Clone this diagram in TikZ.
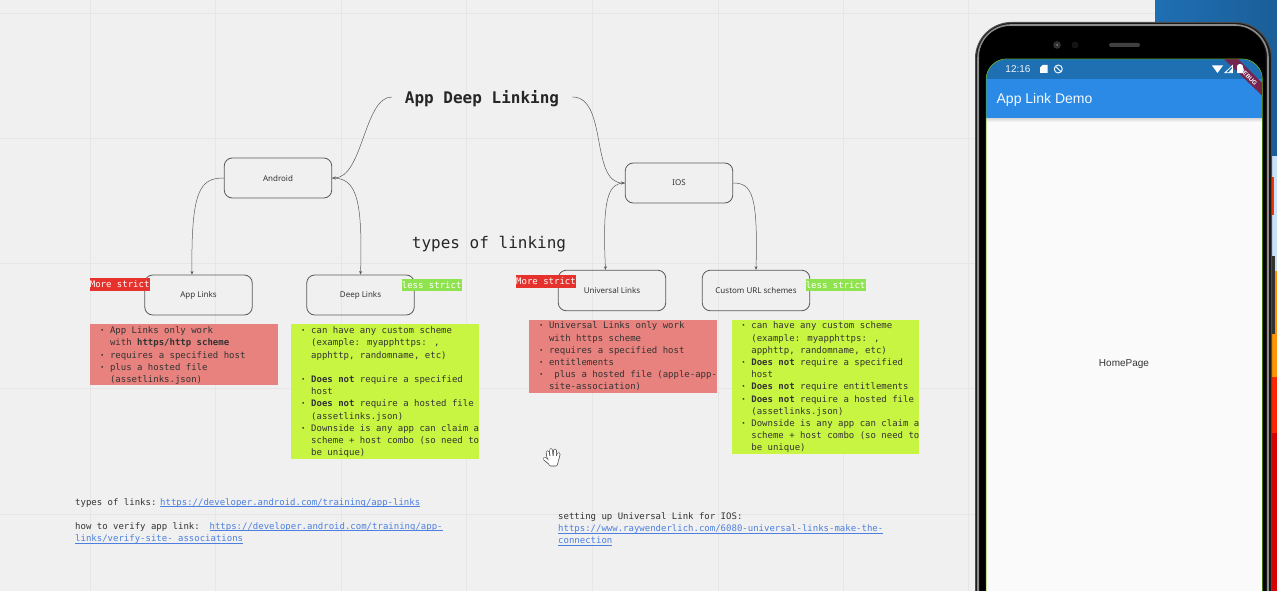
\documentclass[tikz,border=0pt]{standalone}
\usepackage{fontspec}
\setmainfont{DejaVu Sans Mono}
\newfontfamily\boxfont{Noto Sans}
\newfontfamily\uifont{Liberation Sans}
\usetikzlibrary{arrows.meta}
\definecolor{bgc}{HTML}{F0F0F0}
\definecolor{gridc}{HTML}{E6E6E6}
\definecolor{inkc}{HTML}{333333}
\definecolor{edgec}{HTML}{5A5A5A}
\definecolor{redbox}{HTML}{E7827E}
\definecolor{greenbox}{HTML}{C8F542}
\definecolor{redtag}{HTML}{E5322D}
\definecolor{greentag}{HTML}{8FE34F}
\definecolor{linkc}{HTML}{4C7FE0}
\definecolor{statusc}{HTML}{1F6FB3}
\definecolor{barc}{HTML}{2A8AE6}
\definecolor{screenc}{HTML}{FAFAFA}
\definecolor{bannerc}{HTML}{74244F}
\newcommand{\bl}{\makebox[10.5pt][l]{\textbf{·}}}
\newcommand{\ct}{\hspace*{10.5pt}}
\newcommand{\lk}[1]{\textcolor{linkc}{\setbox0\hbox{#1}\rlap{\rule[-1.6pt]{\wd0}{0.5pt}}\box0}}
\tikzset{
  x=1pt,y=-1pt,
  flowbox/.style={draw=edgec,line width=0.8pt,rounded corners=8pt,inner sep=0pt,minimum width=107.5pt,minimum height=40pt,font=\boxfont\fontsize{8}{10}\selectfont,text=inkc},
  link/.style={draw=edgec,line width=0.5pt,-{Stealth[length=3.6pt,width=3pt]}},
  tag/.style={text=white,font=\fontsize{9}{11}\selectfont,inner sep=0pt,minimum width=60pt,minimum height=12.6pt},
  notebox/.style={anchor=north west,inner sep=0pt,minimum width=187.7pt},
  notetext/.style={anchor=north west,inner sep=0pt,align=left,text=inkc,font=\fontsize{9}{12.2}\selectfont},
  plaintext/.style={anchor=north west,inner sep=0pt,align=left,text=inkc,font=\fontsize{9}{12.2}\selectfont},
  headline/.style={font=\fontsize{16}{18}\selectfont,text=black!85},
}
\begin{document}
\begin{tikzpicture}
\useasboundingbox (0,0) rectangle (1277,591);
\clip (0,0) rectangle (1277,591);
\fill[bgc] (0,0) rectangle (1277,591);
% grid
\foreach \gx in {90,215,341,466,592,718,843,968}
  \draw[gridc,line width=0.8pt] (\gx,0) -- (\gx,591);
\foreach \gy in {13,138,263,388,514}
  \draw[gridc,line width=0.8pt] (0,\gy) -- (1277,\gy);

% title and headings
\node[headline,font=\bfseries\fontsize{16}{18}\selectfont,inner xsep=13pt,inner ysep=0pt,text height=14.5pt,text depth=2pt] (title) at (482,97) {App Deep Linking};
\node[headline,inner sep=0pt] (types) at (489,244.5) {types of linking};

% boxes
\node[flowbox] (android) at (278,178) {Android};
\node[flowbox] (ios) at (679,183) {IOS};
\node[flowbox] (app) at (198.5,295) {App Links};
\node[flowbox] (deep) at (360.5,295) {Deep Links};
\node[flowbox,minimum height=40.5pt] (univ) at (612,290.5) {Universal Links};
\node[flowbox,minimum height=40.5pt] (custom) at (756,290.5) {Custom URL schemes};

% connectors
\draw[link] (title.west) .. controls (364,97) and (363,178) .. (android.east);
\draw[link] (title.east) .. controls (608,97) and (590,183) .. (ios.west);
\draw[link] (android.west) .. controls (200,178) and (191,190) .. ([xshift=-6.5pt]app.north);
\draw[link] (android.east) .. controls (355,178) and (363,195) .. (deep.north);
\draw[link] (ios.west) .. controls (609,183) and (602,195) .. ([xshift=-6.5pt]univ.north);
\draw[link] (ios.east) .. controls (752,183) and (758,195) .. (custom.north);

% strictness tags
\node[tag,fill=redtag] (t1) at (119.7,284.5) {More strict};
\node[tag,fill=greentag] (t2) at (431.7,285) {less strict};
\node[tag,fill=redtag] (t3) at (546,281.4) {More strict};
\node[tag,fill=greentag] (t4) at (835.6,285) {less strict};

% coloured notes
\node[notebox,fill=redbox,minimum height=61pt] (n1) at (90,324) {};
\node[notebox,fill=greenbox,minimum height=134.7pt] (n2) at (291,324) {};
\node[notebox,fill=redbox,minimum height=73.4pt] (n3) at (529,319.3) {};
\node[notebox,fill=greenbox,minimum height=134.7pt] (n4) at (731.5,319.3) {};

\node[notetext,xshift=9.3pt] (n1t) at (n1.north west) {\rule{0pt}{9.4pt}\bl App Links only work\\
\ct with \textbf{https/http scheme}\\
\bl requires a specified host\\
\bl plus a hosted file\\
\ct (assetlinks.json)};
\node[notetext,xshift=9.5pt] (n2t) at (n2.north west) {\rule{0pt}{9.4pt}\bl can have any custom scheme\\
\ct (example: myapphttps: ,\\
\ct apphttp, randomname, etc)\\
\mbox{}\\
\bl \textbf{Does not} require a specified\\
\ct host\\
\bl \textbf{Does not} require a hosted file\\
\ct (assetlinks.json)\\
\bl Downside is any app can claim a\\
\ct scheme + host combo (so need to\\
\ct be unique)};
\node[notetext,xshift=9.3pt] (n3t) at (n3.north west) {\rule{0pt}{9.4pt}\bl Universal Links only work\\
\ct with https scheme\\
\bl requires a specified host\\
\bl entitlements\\
\bl \ plus a hosted file (apple-app-\\
\ct site-association)};
\node[notetext,xshift=9.2pt] (n4t) at (n4.north west) {\rule{0pt}{9.4pt}\bl can have any custom scheme\\
\ct (example: myapphttps: ,\\
\ct apphttp, randomname, etc)\\
\bl \textbf{Does not} require a specified\\
\ct host\\
\bl \textbf{Does not} require entitlements\\
\bl \textbf{Does not} require a hosted file\\
\ct (assetlinks.json)\\
\bl Downside is any app can claim a\\
\ct scheme + host combo (so need to\\
\ct be unique)};

% link paragraphs
\node[plaintext] (l1) at (75,498.3) {types of links:\hspace{3.7pt}\lk{https://developer.android.com/training/app-links}};
\node[plaintext] (l2) at (75,522.3) {how to verify app link:\hspace{9.8pt}\lk{https://developer.android.com/training/app-}\\
\lk{links/verify-site-\ associations}};
\node[plaintext] (l3) at (558,512.3) {setting up Universal Link for IOS:\\
\lk{https://www.raywenderlich.com/6080-universal-links-make-the-}\\
\lk{connection}};

% hand cursor
\foreach \w/\c in {3.7/black!75,2.3/white}{
  \draw[line width=\w pt,color=\c,line cap=round,line join=round,fill=\c]
    (549,457) -- (557.5,457) -- (556,464.5) -- (550.5,464.5) -- cycle;
  \draw[line width=\w pt,color=\c,line cap=round] (548.7,458) -- (547.6,452.3);
  \draw[line width=\w pt,color=\c,line cap=round] (551.6,458) -- (551.1,450);
  \draw[line width=\w pt,color=\c,line cap=round] (554.6,458) -- (555,450.5);
  \draw[line width=\w pt,color=\c,line cap=round] (557.3,459) -- (558.6,454);
  \draw[line width=\w pt,color=\c,line cap=round] (550,463) -- (544.8,458.8);
}

% desktop behind the phone
\fill[left color=statusc,right color=statusc!85!black] (1155,0) rectangle (1277,156);
\fill[white!75!barc] (1268,156) rectangle (1277,271);
\fill[orange!85!yellow] (1268,271) rectangle (1277,377);
\fill[red!70!orange] (1268,377) rectangle (1277,433);
\fill[red!85!black] (1268,433) rectangle (1277,591);
\fill[red!65!orange] (1270,177) rectangle (1274,215);

% phone body
\draw[black!70,fill=black!90,line width=1pt,rounded corners=36pt] (975.5,22.5) rectangle (1271.5,640);
\draw[black!45,line width=1.6pt,rounded corners=33pt] (978,25) rectangle (1268,640);
\fill[black,rounded corners=30pt] (979.5,26.5) rectangle (1265.5,640);
\fill[black!80] (1272,256) rectangle (1275,334);
% camera and speaker
\fill[black!80] (1057,45) circle (3.8pt);
\fill[black!50] (1057,45) circle (1pt);
\fill[black!92] (1075,45) circle (3.5pt);
\fill[black!75,rounded corners=2pt] (1109,43) rectangle (1140,47);

% screen
\begin{scope}
  \clip[rounded corners=21pt] (986,58.8) rectangle (1262.5,640);
  \fill[screenc] (986,58.8) rectangle (1262.5,640);
  \fill[statusc] (986,58.8) rectangle (1262.5,79);
  \fill[barc] (986,79) rectangle (1262.5,118.3);
  \shade[top color=black!15,bottom color=screenc] (986,118.3) rectangle (1262.5,122);
  \fill[bannerc] (1223,58) -- (1237,58) -- (1263,84) -- (1263,96.5) -- cycle;
  \node[rotate=-45,text=white,inner sep=0pt,font=\uifont\bfseries\fontsize{6}{7}\selectfont] (dbg) at (1248.5,76.5) {DEBUG};
\end{scope}
\draw[green!50!black!60!yellow,line width=0.5pt,rounded corners=21pt] (986,640) -- (986,58.8) -- (1262.5,58.8) -- (1262.5,640);

% status bar
\node[text=white!92!statusc,inner sep=0pt,font=\uifont\fontsize{10}{12}\selectfont] (clock) at (1018,69) {12:16};
\fill[white] (1042.5,65) -- (1047.5,65) -- (1047.5,73) -- (1040,73) -- (1040,67.5) -- cycle;
\draw[white,line width=0.9pt] (1058.3,69) circle (4pt);
\draw[white,line width=0.9pt] (1055.6,66.3) -- (1061,71.7);
\fill[white] (1212,65.5) -- (1223,65.5) -- (1217.5,73) -- cycle;
\draw[white,line width=0.8pt] (1232.5,65.5) -- (1232.5,72.7) -- (1225,72.7) -- cycle;
\fill[white] (1228.5,72.7) -- (1232.5,72.7) -- (1232.5,68) -- cycle;
\fill[white,rounded corners=0.8pt] (1237,65.5) -- (1239,64) -- (1241,64) -- (1243,65.5) -- (1243,73.2) -- (1237,73.2) -- cycle;

% screen texts
\node[text=white!95!barc,inner sep=0pt,font=\uifont\fontsize{14}{16}\selectfont] (apptitle) at (1044.5,100.3) {App Link Demo};
\node[text=inkc,inner sep=0pt,font=\uifont\fontsize{10}{12}\selectfont] (home) at (1124,364.3) {HomePage};
\end{tikzpicture}
\end{document}
